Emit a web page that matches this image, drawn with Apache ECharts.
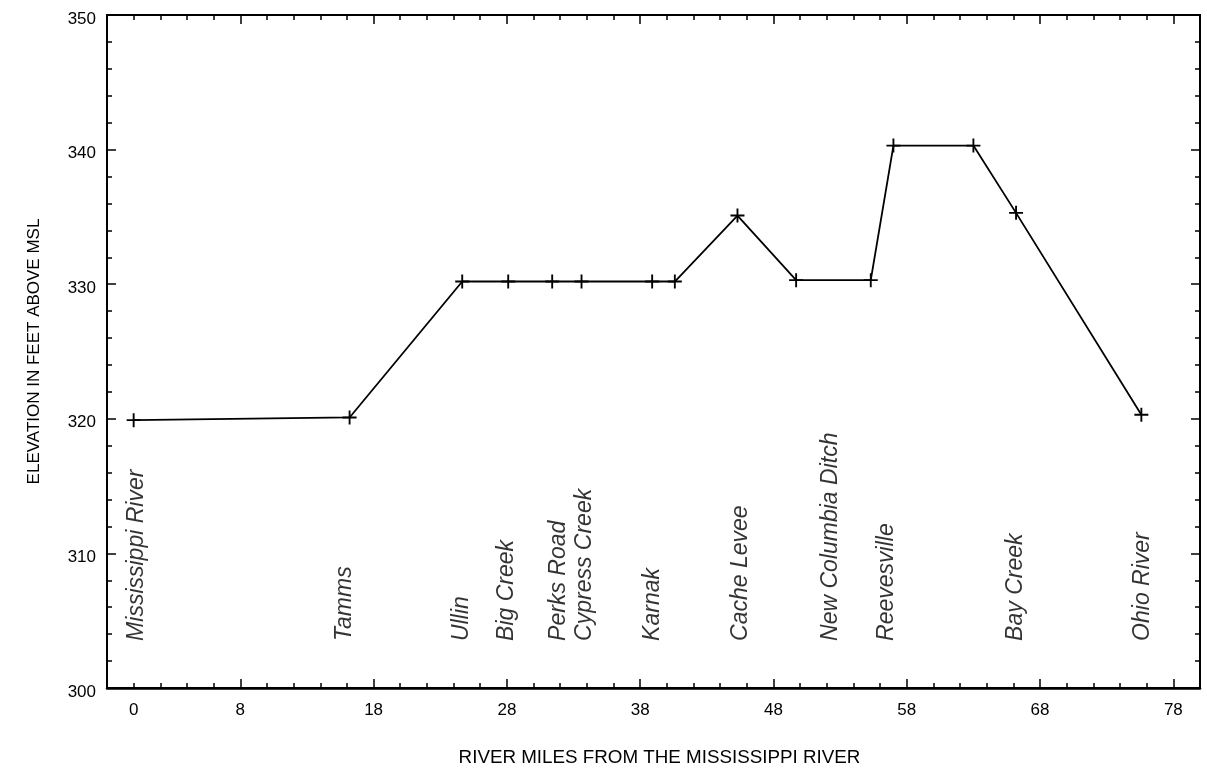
<!DOCTYPE html>
<html>
<head>
<meta charset="utf-8">
<title>Elevation profile</title>
<script src="https://cdn.jsdelivr.net/npm/echarts@6/dist/echarts.min.js"></script>
<style>
  html, body { margin: 0; padding: 0; background: #ffffff; }
  #chart { width: 1207px; height: 773px; }
</style>
</head>
<body>
<div id="chart"></div>
<script>
// Profile points: river mile and elevation (feet above MSL)
const riverMiles = [0, 16.2, 24.65, 28.1, 31.4, 33.6, 38.9, 40.6, 45.3, 49.7, 55.3, 57.0, 63.0, 66.2, 75.6];
const elevations = [319.9, 320.1, 330.2, 330.2, 330.2, 330.2, 330.2, 330.2, 335.1, 330.3, 330.3, 340.3, 340.3, 335.3, 320.3];

// Place names along the channel and the mile where each name sits
const placeNames = ['Mississippi River', 'Tamms', 'Ullin', 'Big Creek', 'Perks Road', 'Cypress Creek',
  'Karnak', 'Cache Levee', 'New Columbia Ditch', 'Reevesville', 'Bay Creek', 'Ohio River'];
const placeMiles = [0.25, 15.85, 24.6, 27.95, 31.85, 33.8, 38.95, 45.55, 52.3, 56.5, 66.2, 75.7];
const placeLabelBase = 303.5;

// Axis tick labels
const mileTickLabels = [0, 8, 18, 28, 38, 48, 58, 68, 78];
const elevationTickLabels = [300, 310, 320, 330, 340, 350];

const BLACK = '#000000';
const LABEL_FONT = '"Liberation Sans", Arial, Helvetica, sans-serif';

const chart = echarts.init(document.getElementById('chart'), null, { renderer: 'canvas' });

const minorTick = { show: true, inside: true, length: 5, lineStyle: { color: BLACK, width: 1.5 } };
const majorTick = { show: true, inside: true, length: 9, lineStyle: { color: BLACK, width: 1.5 } };

function tickAxis(base, extra) {
  return Object.assign({
    type: 'value',
    splitLine: { show: false },
    axisLine: { show: false, onZero: false },
    axisLabel: { show: false },
    axisTick: minorTick
  }, base, extra);
}

const xRange = { min: -2, max: 80 };
const yRange = { min: 300, max: 350 };

const option = {
  backgroundColor: '#ffffff',
  animation: false,
  grid: {
    left: 107, right: 7, top: 15, bottom: 85,
    show: true, borderColor: BLACK, borderWidth: 2, backgroundColor: 'transparent'
  },
  xAxis: [
    // bottom axis: minor ticks every 2 miles plus the labels
    tickAxis(xRange, {
      position: 'bottom', interval: 2,
      axisLine: { show: true, onZero: false, lineStyle: { color: BLACK, width: 2.5 } },
      axisLabel: {
        show: true, margin: 14, color: BLACK, fontSize: 17, fontFamily: LABEL_FONT,
        formatter: v => (mileTickLabels.indexOf(v) >= 0 ? String(v) : '')
      },
      name: 'RIVER MILES FROM THE MISSISSIPPI RIVER',
      nameLocation: 'middle', nameGap: 60,
      nameTextStyle: { color: BLACK, fontSize: 18.8, fontFamily: LABEL_FONT, padding: [0, 0, 0, 12] }
    }),
    // bottom axis: major ticks at 8, 18, ... 78
    tickAxis(xRange, { position: 'bottom', interval: 10, axisTick: majorTick }),
    // top frame ticks
    tickAxis(xRange, { position: 'top', interval: 2 }),
    tickAxis(xRange, { position: 'top', interval: 10, axisTick: majorTick })
  ],
  yAxis: [
    // left axis: major ticks and labels every 10 ft
    tickAxis(yRange, {
      position: 'left', interval: 10,
      axisTick: majorTick,
      axisLabel: {
        show: true, margin: 11, color: BLACK, fontSize: 17, fontFamily: LABEL_FONT,
        formatter: v => (elevationTickLabels.indexOf(v) >= 0 ? '{v|' + v + '}' : ''),
        rich: {
          v: { color: BLACK, fontSize: 17, fontFamily: LABEL_FONT, padding: [8, 0, 0, 0] }
        }
      },
      name: 'ELEVATION IN FEET ABOVE MSL',
      nameLocation: 'middle', nameGap: 64, nameRotate: 90,
      nameTextStyle: { color: BLACK, fontSize: 17, fontFamily: LABEL_FONT }
    }),
    // left axis: minor ticks every 2 ft
    tickAxis(yRange, { position: 'left', interval: 2 }),
    // right frame ticks
    tickAxis(yRange, { position: 'right', interval: 2 }),
    tickAxis(yRange, { position: 'right', interval: 10, axisTick: majorTick })
  ],
  series: [
    {
      name: 'Elevation',
      type: 'line',
      xAxisIndex: 0,
      yAxisIndex: 0,
      data: riverMiles.map((m, i) => [m, elevations[i]]),
      lineStyle: { color: BLACK, width: 1.8 },
      symbol: 'path://M-6,-0.8 L6,-0.8 L6,0.8 L-6,0.8 Z M-0.8,-6 L0.8,-6 L0.8,6 L-0.8,6 Z',
      symbolSize: 14,
      showSymbol: true,
      itemStyle: { color: BLACK },
      z: 5
    },
    {
      name: 'Places',
      type: 'scatter',
      xAxisIndex: 0,
      yAxisIndex: 0,
      symbolSize: 1,
      itemStyle: { color: 'rgba(0,0,0,0)' },
      silent: true,
      data: placeNames.map((n, i) => ({ name: n, value: [placeMiles[i], placeLabelBase] })),
      label: {
        show: true,
        position: 'inside',
        formatter: '{b}',
        rotate: 90,
        align: 'left',
        verticalAlign: 'middle',
        color: BLACK,
        fontSize: 23,
        fontStyle: 'italic',
        fontFamily: LABEL_FONT
      },
      labelLayout: { hideOverlap: false },
      z: 4
    }
  ]
};

chart.setOption(option);
</script>
</body>
</html>
